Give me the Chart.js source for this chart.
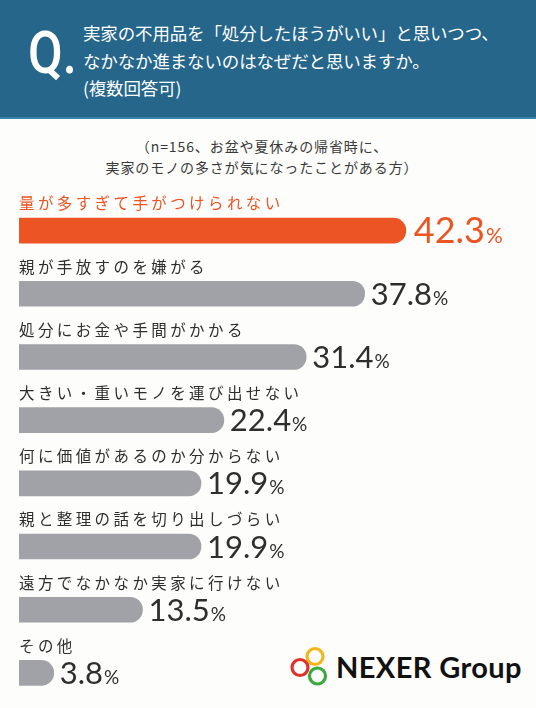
<!DOCTYPE html>
<html>
<head>
<meta charset="utf-8">
<script src="https://cdn.jsdelivr.net/npm/chart.js@4.4.1/dist/chart.umd.min.js"></script>
<style>
  html, body { margin:0; padding:0; }
  body { width:536px; height:708px; background:#fdfdfb; position:relative; overflow:hidden;
         font-family:"Noto Sans CJK JP","Noto Sans",sans-serif; }
  #band { position:absolute; left:0; top:0; width:536px; height:117px; background:#25668a;
          border-bottom:2px solid #3a85aa; }
  #q { position:absolute; left:28px; top:11px; color:#fff; font-family:Roboto,"DejaVu Sans",sans-serif;
       font-weight:500; font-size:60px; line-height:84px; transform:scaleX(0.84); transform-origin:left top; }
  #qt { position:absolute; left:83px; top:19px; color:#fff; font-size:17.5px; line-height:27.5px;
        letter-spacing:-0.15px; white-space:nowrap; }
  #sub { position:absolute; left:0; top:136px; width:524px; text-align:center; color:#3a3a3a;
         font-size:14px; line-height:21px; letter-spacing:0.9px; }
  #chart { position:absolute; left:0; top:0; }
  #logo { position:absolute; left:284px; top:645px; width:50px; height:45px; }
  #logotext { position:absolute; left:336px; top:649px; font-family:Lato,"DejaVu Sans",sans-serif;
              font-weight:700; font-size:29px; line-height:36px; color:#111; letter-spacing:0.4px; }
</style>
</head>
<body>
<div id="band"></div>
<div id="q">Q.</div>
<div id="qt">実家の不用品を「処分したほうがいい」と思いつつ、<br>なかなか進まないのはなぜだと思いますか。<br>(複数回答可)</div>
<div id="sub">（n=156、お盆や夏休みの帰省時に、<br>実家のモノの多さが気になったことがある方）</div>
<svg id="logo" width="50" height="45" viewBox="0 0 50 45">
  <circle cx="31" cy="11.5" r="8" fill="none" stroke="#f2b71c" stroke-width="3.2"/>
  <circle cx="16" cy="22.5" r="8" fill="none" stroke="#e0312b" stroke-width="3.2"/>
  <circle cx="33.5" cy="31" r="8" fill="none" stroke="#3aa93e" stroke-width="3.2"/>
</svg>
<div id="logotext">NEXER Group</div>
<canvas id="chart" width="536" height="708"></canvas>
<script>
const categories = [
  "量が多すぎて手がつけられない",
  "親が手放すのを嫌がる",
  "処分にお金や手間がかかる",
  "大きい・重いモノを運び出せない",
  "何に価値があるのか分からない",
  "親と整理の話を切り出しづらい",
  "遠方でなかなか実家に行けない",
  "その他"
];
const values = [42.3, 37.8, 31.4, 22.4, 19.9, 19.9, 13.5, 3.8];
const valueLabels = ["42.3", "37.8", "31.4", "22.4", "19.9", "19.9", "13.5", "3.8"];

const ORANGE = "#ec5423";
const GRAY = "#a1a2a7";
const DARK = "#2e2e2e";

function pitchedText(ctx, text, x, y, pitch) {
  let cx = x;
  for (const ch of text) {
    ctx.fillText(ch, cx, y);
    cx += pitch;
  }
}

const labelPlugin = {
  id: "labelPlugin",
  afterDatasetsDraw(chart) {
    const ctx = chart.ctx;
    const xs = chart.scales.x, ys = chart.scales.y;
    ctx.save();
    categories.forEach((cat, i) => {
      const yc = ys.getPixelForValue(i);
      const hi = i === 0;
      ctx.font = '15.5px "Noto Sans CJK JP"';
      ctx.textBaseline = "middle";
      ctx.textAlign = "left";
      ctx.fillStyle = hi ? ORANGE : DARK;
      pitchedText(ctx, cat, xs.left, yc - 27, 18.9);
      const xEnd = xs.getPixelForValue(values[i]);
      ctx.textBaseline = "alphabetic";
      ctx.font = (hi ? "36px" : "31px") + ' Lato';
      const base = yc + (hi ? 12.5 : 11);
      const x0 = xEnd + (hi ? 8 : 6);
      ctx.fillText(valueLabels[i], x0, base);
      const w = ctx.measureText(valueLabels[i]).width;
      ctx.font = (hi ? "21px" : "19px") + ' Lato';
      ctx.fillText("%", x0 + w + 1, base);
    });
    ctx.restore();
  }
};

new Chart(document.getElementById("chart"), {
  type: "bar",
  data: {
    labels: categories,
    datasets: [{
      data: values,
      backgroundColor: (c) => c.dataIndex === 0 ? ORANGE : GRAY,
      borderRadius: 13,
      borderSkipped: "start",
      barThickness: 25
    }]
  },
  options: {
    indexAxis: "y",
    responsive: false,
    animation: false,
    devicePixelRatio: 1,
    layout: { padding: { top: 199, bottom: 3.5, left: 19, right: 14 } },
    scales: {
      x: { display: false, min: 0, max: 55 },
      y: { display: false }
    },
    plugins: { legend: { display: false }, tooltip: { enabled: false } },
    events: []
  },
  plugins: [labelPlugin]
});
</script>
</body>
</html>
